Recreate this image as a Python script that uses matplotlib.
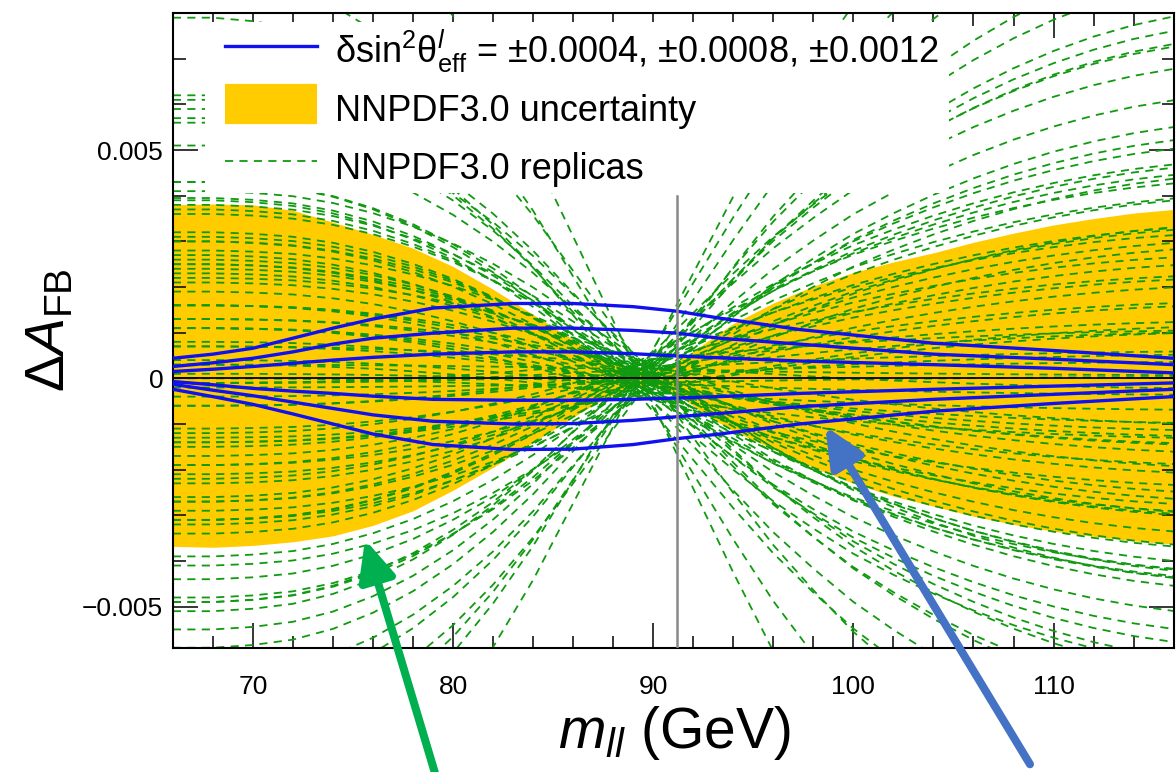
import numpy as np
import matplotlib
matplotlib.use("Agg")
import matplotlib.pyplot as plt
from matplotlib.lines import Line2D
from matplotlib.patches import Rectangle
from matplotlib.ticker import MultipleLocator, FuncFormatter

plt.rcParams['font.family'] = ['Liberation Sans', 'DejaVu Sans']
plt.rcParams['mathtext.fontset'] = 'custom'
plt.rcParams['mathtext.rm'] = 'Liberation Sans'
plt.rcParams['mathtext.it'] = 'Liberation Sans:italic'
plt.rcParams['mathtext.bf'] = 'Liberation Sans:bold'

# dilepton mass grid (GeV)
mass = [66, 68, 70, 72, 74, 76, 78, 80, 82, 84, 86, 87, 88, 89, 90,
        91, 92, 93, 94, 96, 98, 100, 102, 104, 106, 108, 110, 112, 114, 116]

# NNPDF3.0 uncertainty band edges (x1e-3)
band_up = [3.80, 3.82, 3.80, 3.68, 3.42, 3.15, 2.85, 2.45, 1.95, 1.40, 0.85, 0.58, 0.35, 0.18, 0.15,
           0.30, 0.60, 0.90, 1.20, 1.65, 2.02, 2.32, 2.55, 2.75, 2.98, 3.18, 3.36, 3.50, 3.62, 3.70]
band_dn = [-3.68, -3.70, -3.66, -3.58, -3.45, -3.22, -2.90, -2.45, -1.95, -1.40, -0.85, -0.58, -0.35, -0.18, -0.15,
           -0.30, -0.60, -0.90, -1.15, -1.55, -1.95, -2.30, -2.58, -2.80, -3.02, -3.20, -3.35, -3.46, -3.56, -3.63]

# common replica profile (normalised to 1 at 66 GeV)
rep_profile = [1.00, 1.00, 0.99, 0.97, 0.93, 0.87, 0.79, 0.69, 0.57, 0.43, 0.27, 0.19, 0.11, 0.03, -0.05,
               -0.13, -0.21, -0.29, -0.37, -0.52, -0.65, -0.77, -0.87, -0.96, -1.04, -1.11, -1.17, -1.22, -1.26, -1.29]

# replica value at 66 GeV (x1e-3) and offset near the pole (x1e-4)
rep_amp = [0.1, -0.1, 0.3, -0.2, 0.4, -0.4, 0.6, -0.5, 0.7, -0.7,
           0.9, -0.8, 1.0, -1.0, 1.1, -1.2, 1.3, -1.3, 1.4, -1.5,
           1.5, -1.6, 1.6, -1.7, 1.8, -1.9, 1.9, -2.0, 2.0, -2.2,
           2.1, -2.3, 2.2, -2.5, 2.4, -2.6, 2.5, -2.8, 2.6, -2.9,
           2.7, -3.0, 2.9, -3.1, 3.0, -3.3, 3.1, -3.4, 3.2, -3.5,
           3.3, -3.7, 3.4, -3.9, 3.5, -4.2, 3.6, -4.5, 3.7, -4.8,
           3.95, -5.1, 4.1, -5.4, 4.4, -5.6, 4.6, -5.9, 4.9, -6.3,
           5.3, -6.8, 5.5, -7.4, 5.8, -8.2, 6.1, -9.0, 6.6, -10.5,
           7.6, 9.0, 11.5, 0.2, -0.3, 1.2, -1.1, 2.3, -2.4, 0.8]
rep_off = [2, -1, -3, 1, 3, 0, -2, 4, -4, 1,
           -1, 2, 3, -3, 0, 1, -2, -1, 2, 3,
           -4, 1, 0, -2, 4, 2, -3, -1, 1, 3,
           -2, 0, 2, -4, 1, -1, 3, -3, 0, 2,
           -2, 4, 1, -1, -3, 2, 0, 3, -2, 1,
           -1, -4, 2, 0, 3, -2, 1, -3, 4, -1,
           0, 2, -2, 3, -1, 1, -3, 0, 2, -2,
           4, -1, 1, -3, 3, 0, -2, 2, -4, 1,
           3, -2, 0, -1, 2, 1, -3, 0, 2, -1]

# sin2theta shifts (x1e-3)
mass_b = [66, 68, 70, 72, 74, 76, 79, 83, 86, 89, 91.2, 93.3, 97.3, 104, 110, 116]
shift_p12 = [0.44, 0.53, 0.66, 0.88, 1.10, 1.30, 1.54, 1.64, 1.64, 1.57, 1.47, 1.32, 1.07, 0.77, 0.61, 0.44]
shift_p08 = [0.26, 0.34, 0.44, 0.58, 0.75, 0.88, 0.99, 1.10, 1.10, 1.05, 0.99, 0.88, 0.75, 0.53, 0.42, 0.30]
shift_p04 = [0.15, 0.20, 0.26, 0.33, 0.40, 0.46, 0.53, 0.58, 0.58, 0.54, 0.49, 0.45, 0.38, 0.30, 0.22, 0.12]
shift_m04 = [-0.07, -0.14, -0.22, -0.28, -0.33, -0.39, -0.46, -0.48, -0.48, -0.46, -0.43, -0.40, -0.33, -0.24, -0.17, -0.10]
shift_m08 = [-0.13, -0.26, -0.38, -0.52, -0.66, -0.80, -0.94, -1.00, -0.99, -0.92, -0.84, -0.77, -0.62, -0.46, -0.35, -0.24]
shift_m12 = [-0.24, -0.40, -0.57, -0.78, -1.00, -1.22, -1.45, -1.56, -1.55, -1.45, -1.32, -1.22, -1.00, -0.72, -0.55, -0.40]

mz = 91.19

GREEN = '#109a10'
BLUE = '#1010f0'
GOLD = '#ffcc00'
DASH = (0, (4.5, 3.5))

m = np.array(mass)
prof = np.array(rep_profile)

fig = plt.figure(figsize=(11.76, 7.72), dpi=100)
ax = fig.add_axes([0.147, 0.161, 0.851, 0.822])

ax.fill_between(m, np.array(band_dn) * 1e-3, np.array(band_up) * 1e-3,
                color=GOLD, lw=0, zorder=1)

for a, o in zip(rep_amp, rep_off):
    ax.plot(m, a * 1e-3 * prof + o * 1e-4, color=GREEN, lw=1.3, ls=DASH, zorder=2)

for s in [shift_p12, shift_p08, shift_p04, shift_m04, shift_m08, shift_m12]:
    ax.plot(mass_b, np.array(s) * 1e-3, color=BLUE, lw=2.4, zorder=3)

ax.axhline(0, color='black', lw=1.3, zorder=4)
ax.plot([mz, mz], [-0.0059, 0.004], color='#888888', lw=1.8, zorder=5)

ax.set_xlim(66, 116)
ax.set_ylim(-0.0059, 0.008)
ax.xaxis.set_major_locator(MultipleLocator(10))
ax.xaxis.set_minor_locator(MultipleLocator(2))
ax.yaxis.set_major_locator(MultipleLocator(0.005))
ax.yaxis.set_minor_locator(MultipleLocator(0.001))
ax.yaxis.set_major_formatter(FuncFormatter(
    lambda v, p: '0' if abs(v) < 1e-9 else f'{v:.3f}'.replace('-', '\u2212')))
ax.tick_params(which='both', direction='in', top=True, right=True, width=1.1)
ax.tick_params(which='major', length=18, labelsize=19)
ax.tick_params(which='minor', length=9)
ax.tick_params(axis='x', pad=20)
ax.tick_params(axis='y', pad=7)
for sp in ax.spines.values():
    sp.set_linewidth(1.5)

fig.text(50 / 1176, 1 - 330 / 772, r'$\Delta A_{\mathrm{FB}}$', rotation=90,
         fontsize=40, ha='center', va='center')
fig.text(674 / 1176, 1 - 733 / 772, r'$m_{ll}$ (GeV)', fontsize=41,
         ha='center', va='center')

# white legend box hiding the replicas behind it
ax.add_patch(Rectangle((0.032, 0.717), 0.744, 0.269, transform=ax.transAxes,
                       facecolor='white', edgecolor='none', zorder=9))

handles = [Line2D([], [], color=BLUE, lw=2.4),
           Line2D([], [], color=GOLD, lw=29, solid_capstyle='butt'),
           Line2D([], [], color=GREEN, lw=1.3, ls=DASH)]
labels = ['\u03b4sin$^2$\u03b8$^{l}_{\\mathrm{eff}}$ = \u00b10.0004, \u00b10.0008, \u00b10.0012',
          'NNPDF3.0 uncertainty', 'NNPDF3.0 replicas']
leg = ax.legend(handles, labels, loc='upper left', bbox_to_anchor=(0.052, 0.976),
                borderaxespad=0, fontsize=26, frameon=False, borderpad=0,
                handlelength=2.55, handleheight=1.6, handletextpad=0.5,
                labelspacing=0.3)
leg.set_zorder(10)

# annotation arrows pointing into the plot
ax.annotate('', xy=(75.6, -0.00353), xytext=(437 / 1176, -0.01),
            textcoords='figure fraction', annotation_clip=False,
            arrowprops=dict(arrowstyle='-|>,head_length=1.2,head_width=0.55',
                            color='#00b050', lw=5.8, mutation_scale=20,
                            shrinkA=0, shrinkB=0), zorder=12)
ax.annotate('', xy=(98.6, -0.00105), xytext=(1030 / 1176, 0.01),
            textcoords='figure fraction', annotation_clip=False,
            arrowprops=dict(arrowstyle='-|>,head_length=1.2,head_width=0.55',
                            color='#4472c4', lw=5.8, mutation_scale=20,
                            shrinkA=0, shrinkB=0), zorder=12)

fig.savefig('out.png', dpi=100)
